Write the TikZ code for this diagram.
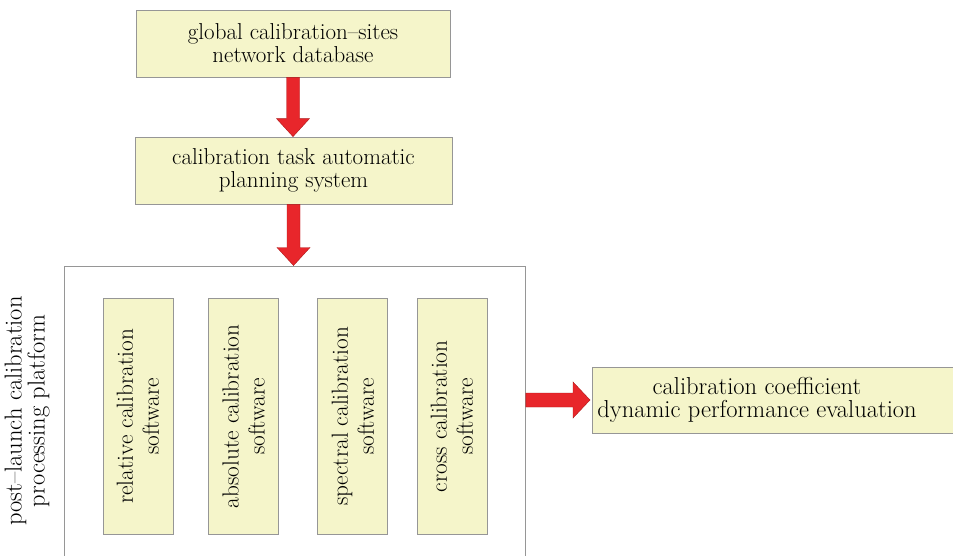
\documentclass[tikz,border=0pt]{standalone}
\usetikzlibrary{calc}
\definecolor{boxfill}{RGB}{245,245,202}
\definecolor{boxedge}{RGB}{150,150,150}
\definecolor{arrowred}{RGB}{232,38,43}
\definecolor{arrowedge}{RGB}{175,25,25}
\newcommand\fatdown[2]{%
  \path let \p1=(#1.south), \p2=(#2.north) in
    [fill=arrowred, draw=arrowedge, line width=0.4pt]
    (\x1-6.5pt,\y1) -- (\x1-6.5pt,\y2+18pt) -- (\x1-16.5pt,\y2+18pt) --
    (\x1,\y2) -- (\x1+16.5pt,\y2+18pt) -- (\x1+6.5pt,\y2+18pt) --
    (\x1+6.5pt,\y1) -- cycle;}
\begin{document}
\begin{tikzpicture}[x=1pt,y=-1pt,
  yb/.style={draw=boxedge, fill=boxfill, line width=0.8pt, inner sep=0pt,
    align=center, font=\fontsize{23}{23}\selectfont},
  vb/.style={yb, rotate=90, minimum width=235.5pt, minimum height=70pt,
    font=\fontsize{23.3}{26}\selectfont},
  frame/.style={draw=boxedge, line width=0.8pt, inner sep=0pt},
  lbl/.style={align=center, inner sep=0pt, font=\fontsize{24.5}{23}\selectfont}]
\useasboundingbox (0,0) rectangle (953,556);
\clip (0,0) rectangle (953,556);
\fill[white] (0,0) rectangle (953,556);
\node[yb, minimum width=314pt, minimum height=67pt] (db) at (293,43.5)
  {global calibration--sites\\network database};
\node[yb, minimum width=317pt, minimum height=67pt] (plan) at (293.5,170.5)
  {calibration task automatic\\planning system};
\node[frame, minimum width=461pt, minimum height=310pt, anchor=north west]
  (plat) at (64,265.5) {};
\node[lbl, rotate=90] (platlbl) at (27,411)
  {post--launch calibration\\processing platform};
\node[vb] (rel) at (138,416.3) {relative calibration\\software};
\node[vb] (abs) at (243.6,416.3) {absolute calibration\\software};
\node[vb] (spec) at (352.8,416.3) {spectral calibration\\software};
\node[vb] (cross) at (452,416.3) {cross calibration\\software};
\node[yb, minimum width=370pt, minimum height=66pt, anchor=west] (eval)
  at (592,400) {};
\node[lbl] (evallbl) at (757,400)
  {calibration coefficient\\dynamic performance evaluation};
\fatdown{db}{plan}
\fatdown{plan}{plat}
\path let \p1=(plat.east), \p2=(eval.west) in
  [fill=arrowred, draw=arrowedge, line width=0.4pt]
  (\x1,\y2+7pt) -- (\x2-19pt,\y2+7pt) -- (\x2-19pt,\y2+18pt) --
  (\x2-2pt,\y2) -- (\x2-19pt,\y2-18pt) -- (\x2-19pt,\y2-7pt) --
  (\x1,\y2-7pt) -- cycle;
\end{tikzpicture}
\end{document}
